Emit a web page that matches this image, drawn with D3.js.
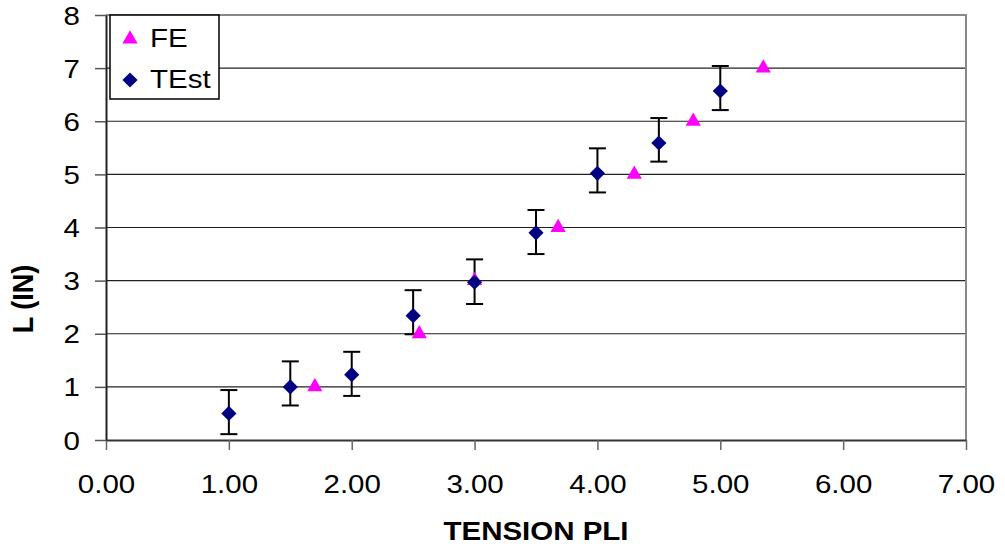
<!DOCTYPE html>
<html>
<head>
<meta charset="utf-8">
<script src="https://cdn.jsdelivr.net/npm/d3@7"></script>
<style>
  body { margin: 0; background: #fff; }
  svg { display: block; font-family: "Liberation Sans", Arial, sans-serif; }
</style>
</head>
<body>
<div id="chart"></div>
<script>
// FE series (triangles)
const feX = [1.70, 2.55, 3.00, 3.68, 4.30, 4.78, 5.35];
const feY = [1, 2, 3, 4, 5, 6, 7];

// TEst series (diamonds) with error bars
const testX = [1.0, 1.5, 2.0, 2.5, 3.0, 3.5, 4.0, 4.5, 5.0];
const testY = [0.50, 1.00, 1.23, 2.34, 2.97, 3.90, 5.02, 5.59, 6.57];
const testLow = [0.11, 0.65, 0.83, 1.99, 2.56, 3.50, 4.66, 5.24, 6.21];
const testHigh = [0.94, 1.48, 1.66, 2.82, 3.40, 4.33, 5.49, 6.06, 7.04];

const xTicks = [0, 1, 2, 3, 4, 5, 6, 7];
const yTicks = [0, 1, 2, 3, 4, 5, 6, 7, 8];

const width = 1005;
const height = 546;
const margin = { top: 15, right: 39, bottom: 106, left: 106 };
const sx = 1.18; // text is a bit wider than tall in the picture

const svg = d3.select("#chart").append("svg")
    .attr("width", width)
    .attr("height", height);

const x = d3.scaleLinear().domain([0, 7]).range([margin.left, width - margin.right]);
const y = d3.scaleLinear().domain([0, 8]).range([height - margin.bottom, margin.top]);

// gridlines
svg.append("g")
    .selectAll("line")
    .data(yTicks.filter(d => d > 0 && d < 8))
    .enter().append("line")
    .attr("x1", x(0)).attr("x2", x(7))
    .attr("y1", d => y(d)).attr("y2", d => y(d))
    .attr("stroke", "#222")
    .attr("stroke-width", 1.2);

// plot border top and right
svg.append("path")
    .attr("d", `M${x(0)},${y(8)}H${x(7)}V${y(0)}`)
    .attr("fill", "none")
    .attr("stroke", "#888")
    .attr("stroke-width", 2);

// x axis
const xAxis = svg.append("g")
    .attr("transform", `translate(0,${y(0)})`)
    .call(d3.axisBottom(x).tickValues(xTicks).tickFormat(d3.format(".2f")).tickSize(10).tickSizeOuter(0));
xAxis.select(".domain").attr("stroke", "#333").attr("stroke-width", 2);
xAxis.selectAll(".tick line").attr("stroke", "#666").attr("stroke-width", 1.5);
xAxis.selectAll(".tick text")
    .attr("y", 53).attr("dy", 0)
    .attr("transform", `scale(${sx},1)`)
    .attr("font-size", 25)
    .attr("fill", "#000");

// y axis
const yAxis = svg.append("g")
    .attr("transform", `translate(${x(0)},0)`)
    .call(d3.axisLeft(y).tickValues(yTicks).tickFormat(d3.format("d")).tickSize(11).tickSizeOuter(0));
yAxis.select(".domain").attr("stroke", "#222").attr("stroke-width", 2);
yAxis.selectAll(".tick line").attr("stroke", "#555").attr("stroke-width", 1.5);
yAxis.selectAll(".tick text")
    .attr("x", -26 / sx).attr("dy", "0.36em")
    .attr("transform", `scale(${sx},1)`)
    .attr("font-size", 25)
    .attr("fill", "#000");

// axis titles
svg.append("text")
    .attr("transform", `translate(${(x(0) + x(7)) / 2},540) scale(${sx},1)`)
    .attr("text-anchor", "middle")
    .attr("font-size", 25)
    .attr("font-weight", "bold")
    .text("TENSION PLI");

svg.append("text")
    .attr("transform", `translate(33,299) rotate(-90) scale(1,1.12)`)
    .attr("text-anchor", "middle")
    .attr("font-size", 27)
    .attr("font-weight", "bold")
    .text("L (IN)");

// error bars
const testData = testX.map((d, i) => ({ x: d, y: testY[i], lo: testLow[i], hi: testHigh[i] }));
const eb = svg.append("g").attr("stroke", "#000").attr("stroke-width", 2);
testData.forEach(d => {
    eb.append("line").attr("x1", x(d.x)).attr("x2", x(d.x)).attr("y1", y(d.lo)).attr("y2", y(d.hi));
    eb.append("line").attr("x1", x(d.x) - 8.5).attr("x2", x(d.x) + 8.5).attr("y1", y(d.lo)).attr("y2", y(d.lo));
    eb.append("line").attr("x1", x(d.x) - 8.5).attr("x2", x(d.x) + 8.5).attr("y1", y(d.hi)).attr("y2", y(d.hi));
});

// FE triangles
const tri = d3.symbol().type(d3.symbolTriangle).size(100);
svg.append("g")
    .selectAll("path")
    .data(feX.map((d, i) => ({ x: d, y: feY[i] })))
    .enter().append("path")
    .attr("d", tri)
    .attr("transform", d => `translate(${x(d.x)},${y(d.y)})`)
    .attr("fill", "#FF00FF");

// TEst diamonds
const dia = d3.symbol().type(d3.symbolSquare).size(115);
svg.append("g")
    .selectAll("path")
    .data(testData)
    .enter().append("path")
    .attr("d", dia)
    .attr("transform", d => `translate(${x(d.x)},${y(d.y)}) rotate(45)`)
    .attr("fill", "#000080");

// legend
const lg = svg.append("g");
lg.append("rect")
    .attr("x", 110).attr("y", 15)
    .attr("width", 109).attr("height", 84)
    .attr("fill", "#fff")
    .attr("stroke", "#000")
    .attr("stroke-width", 1.5);
lg.append("path").attr("d", tri).attr("transform", "translate(130,39)").attr("fill", "#FF00FF");
lg.append("path").attr("d", dia).attr("transform", "translate(130,80) rotate(45)").attr("fill", "#000080");
lg.append("text")
    .attr("transform", `translate(150,47) scale(${sx},1)`)
    .attr("font-size", 25)
    .text("FE");
lg.append("text")
    .attr("transform", `translate(150,88) scale(${sx},1)`)
    .attr("font-size", 25)
    .text("TEst");
</script>
</body>
</html>
